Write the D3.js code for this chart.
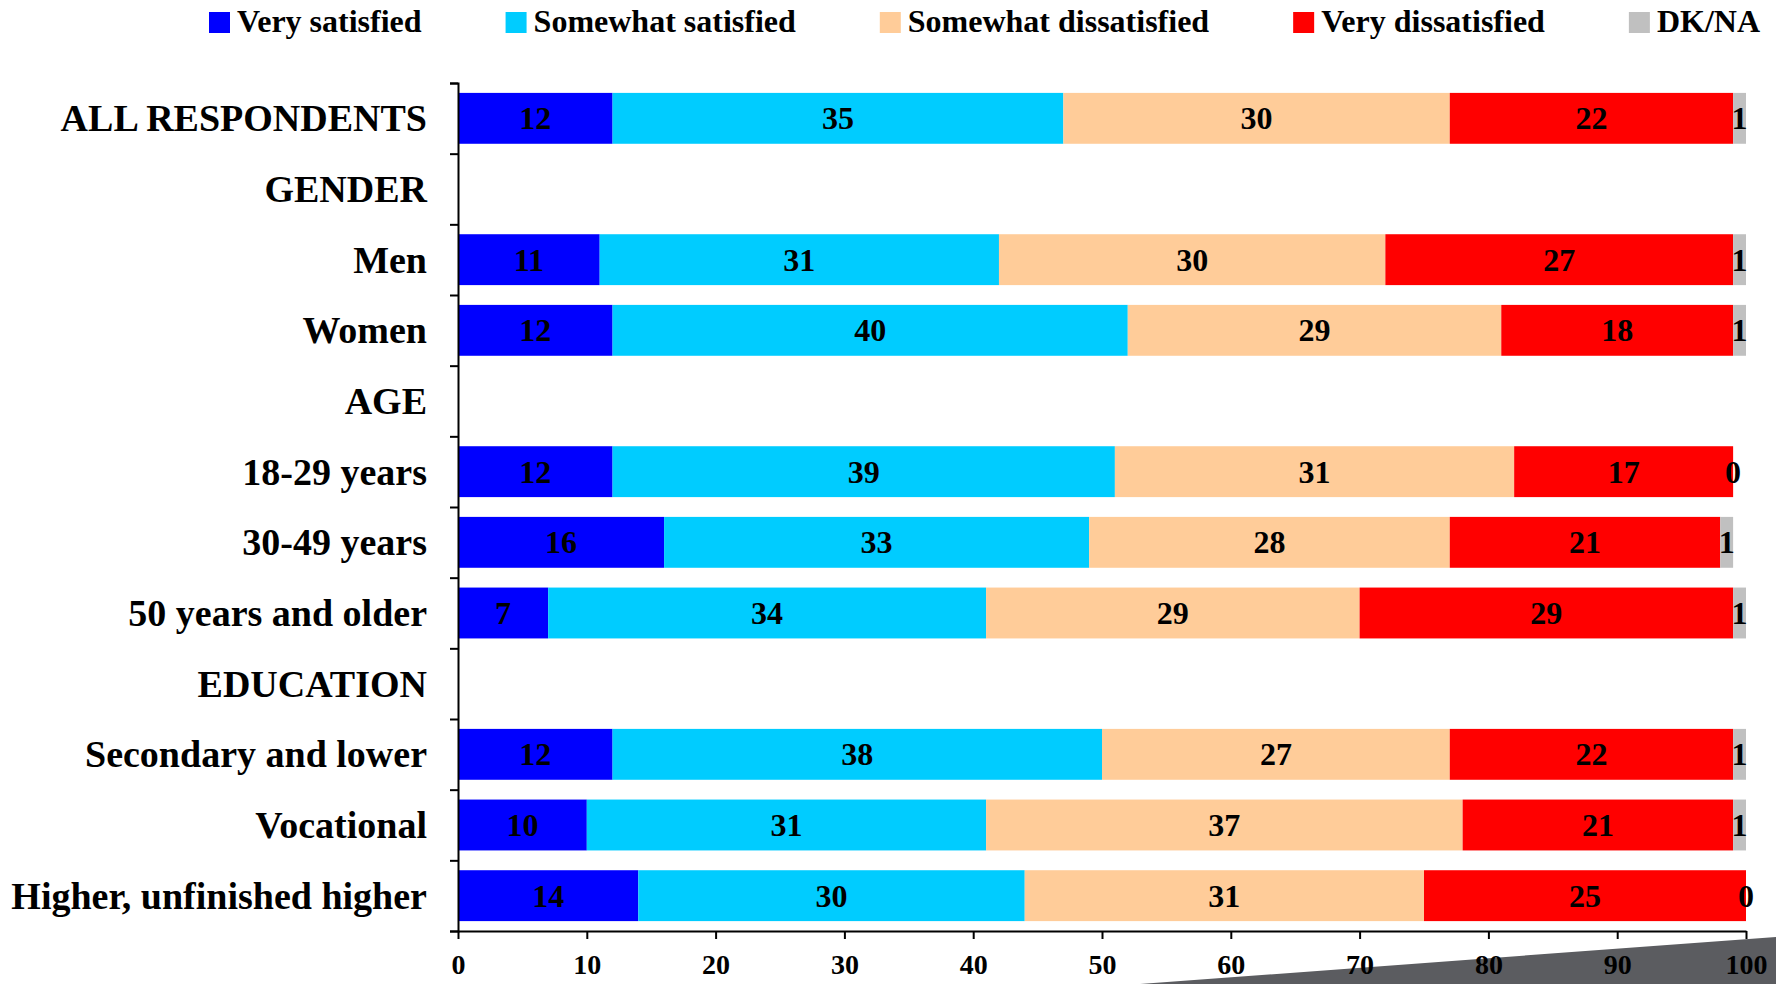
<!DOCTYPE html>
<html lang="en">
	<head>
		<meta charset="utf-8">
		<title>Satisfaction chart</title>
		<script type="text/javascript" src="https://cdn.jsdelivr.net/npm/d3@7/dist/d3.min.js"></script>
		<style type="text/css">
			body { margin: 0; background: #fff; }
			text { font-family: "Liberation Serif", "Times New Roman", serif; font-weight: bold; fill: #000; }
		</style>
	</head>
	<body>
		<script type="text/javascript">

			// categories (header rows have no bar)
			var categories = ["ALL RESPONDENTS", "GENDER", "Men", "Women", "AGE",
				"18-29 years", "30-49 years", "50 years and older", "EDUCATION",
				"Secondary and lower", "Vocational", "Higher, unfinished higher"];

			var seriesNames = ["Very satisfied", "Somewhat satisfied", "Somewhat dissatisfied", "Very dissatisfied", "DK/NA"];
			var seriesColors = ["#0000ff", "#00ccff", "#ffcc99", "#ff0000", "#c0c0c0"];

			var verySatisfied     = [12, null, 11, 12, null, 12, 16, 7, null, 12, 10, 14];
			var somewhatSatisfied = [35, null, 31, 40, null, 39, 33, 34, null, 38, 31, 30];
			var somewhatDissat    = [30, null, 30, 29, null, 31, 28, 29, null, 27, 37, 31];
			var veryDissatisfied  = [22, null, 27, 18, null, 17, 21, 29, null, 22, 21, 25];
			var dkna              = [1, null, 1, 1, null, 0, 1, 1, null, 1, 1, 0];

			var xTicks = [0, 10, 20, 30, 40, 50, 60, 70, 80, 90, 100];

			var series = [verySatisfied, somewhatSatisfied, somewhatDissat, veryDissatisfied, dkna];

			var w = 1776, h = 984;
			var plotLeft = 458, plotRight = 1746, plotTop = 83, plotBottom = 931;

			var svg = d3.select("body")
						.append("svg")
						.attr("width", w)
						.attr("height", h);

			// dark wedge at bottom right
			svg.append("polygon")
			   .attr("points", "1140,984 1776,937 1776,984")
			   .attr("fill", "#5b5c60");

			var xScale = d3.scaleLinear()
				.domain([0, 100])
				.range([plotLeft, plotRight]);

			var yScale = d3.scaleBand()
				.domain(categories)
				.range([plotTop, plotBottom])
				.paddingInner(0.28)
				.paddingOuter(0.14);

			// build stacked segments
			var segments = [];
			categories.forEach(function(cat, i) {
				if (series[0][i] === null) return;
				var x0 = 0;
				series.forEach(function(s, k) {
					segments.push({cat: cat, k: k, v: s[i], x0: x0, x1: x0 + s[i]});
					x0 += s[i];
				});
			});

			svg.selectAll("rect.seg")
			   .data(segments)
			   .enter()
			   .append("rect")
			   .attr("class", "seg")
			   .attr("x", function(d) { return xScale(d.x0); })
			   .attr("y", function(d) { return yScale(d.cat); })
			   .attr("width", function(d) { return xScale(d.x1) - xScale(d.x0); })
			   .attr("height", yScale.bandwidth())
			   .attr("fill", function(d) { return seriesColors[d.k]; });

			svg.selectAll("text.val")
			   .data(segments)
			   .enter()
			   .append("text")
			   .attr("class", "val")
			   .text(function(d) { return d.v; })
			   .attr("x", function(d) { return xScale((d.x0 + d.x1) / 2); })
			   .attr("y", function(d) { return yScale(d.cat) + yScale.bandwidth() / 2 + 11; })
			   .attr("text-anchor", "middle")
			   .attr("font-size", "32px");

			// left axis: boundary ticks
			var yEdges = d3.scaleLinear().domain([0, categories.length]).range([plotTop, plotBottom]);
			var leftAxis = svg.append("g")
				.attr("transform", "translate(" + plotLeft + ",0)")
				.call(d3.axisLeft(yEdges).ticks(categories.length).tickSize(8).tickSizeOuter(8).tickFormat(""));
			leftAxis.selectAll("path, line").attr("stroke", "#000").attr("stroke-width", 2);

			// category labels
			var labelAxis = svg.append("g")
				.attr("transform", "translate(" + plotLeft + ",0)")
				.call(d3.axisLeft(yScale).tickSize(0).tickPadding(31));
			labelAxis.select(".domain").remove();
			labelAxis.selectAll("text")
				.attr("font-family", null)
				.style("font-size", "38px")
				.attr("dy", "0.34em");

			// bottom axis
			var bottomAxis = svg.append("g")
				.attr("transform", "translate(0," + plotBottom + ")")
				.call(d3.axisBottom(xScale).tickValues(xTicks).tickSize(8).tickSizeOuter(0).tickPadding(15));
			bottomAxis.selectAll("path, line").attr("stroke", "#000").attr("stroke-width", 2);
			bottomAxis.selectAll("text")
				.attr("font-family", null)
				.style("font-size", "28px");

			// legend
			var legend = svg.append("g");
			var lx = 209;
			seriesNames.forEach(function(name, k) {
				legend.append("rect")
					.attr("x", lx)
					.attr("y", 12)
					.attr("width", 21)
					.attr("height", 21)
					.attr("fill", seriesColors[k]);
				var t = legend.append("text")
					.attr("x", lx + 28)
					.attr("y", 32)
					.attr("font-size", "32px")
					.text(name);
				lx += 28 + t.node().getComputedTextLength() + 84;
			});

		</script>
	</body>
</html>
